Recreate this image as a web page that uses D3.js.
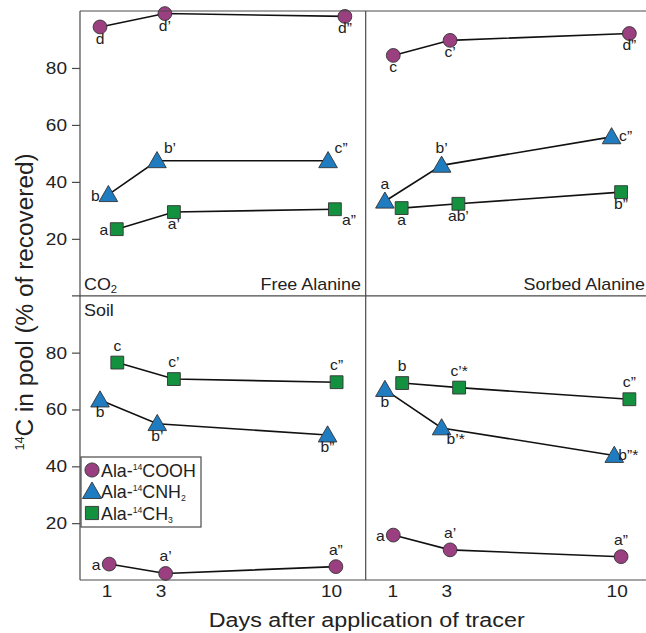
<!DOCTYPE html>
<html><head><meta charset="utf-8">
<script src="https://cdn.jsdelivr.net/npm/d3@7/dist/d3.min.js"></script>
<style>body{margin:0;background:#fff}svg{display:block;font-family:"Liberation Sans",Arial,sans-serif}</style>
</head><body><svg id="c" width="646" height="633"></svg>
<script>
// ---- data ----
const dayTicks = [1, 3, 10];
const yTicks = [20, 40, 60, 80];
const seriesNames = ["Ala-14COOH", "Ala-14CNH2", "Ala-14CH3"];
// x = sampling day as drawn (slightly offset per symbol), y = % of recovered 14C
// Panel 1: CO2, free alanine
const p1CoohDays = [0.76, 3.18, 10.57], p1CoohVals = [94.4, 99.1, 98.1], p1CoohLab = ["d", "d’", "d”"];
const p1CnhDays = [1.07, 2.87, 9.88], p1CnhVals = [35.5, 47.4, 47.4], p1CnhLab = ["b", "b’", "c”"];
const p1ChDays = [1.38, 3.55, 10.16], p1ChVals = [23.4, 29.4, 30.4], p1ChLab = ["a", "a’", "a”"];
// Panel 2: CO2, sorbed alanine
const p2CoohDays = [1.04, 3.16, 10.52], p2CoohVals = [84.4, 89.7, 92.1], p2CoohLab = ["c", "c’", "d”"];
const p2CnhDays = [0.73, 2.83, 9.79], p2CnhVals = [33.2, 45.8, 55.8], p2CnhLab = ["a", "b’", "c”"];
const p2ChDays = [1.35, 3.50, 10.18], p2ChVals = [30.8, 32.3, 36.4], p2ChLab = ["a", "ab’", "b”"];
// Panel 3: soil, free alanine
const p3CoohDays = [1.10, 3.21, 10.20], p3CoohVals = [5.6, 2.3, 4.7], p3CoohLab = ["a", "a’", "a”"];
const p3CnhDays = [0.76, 2.88, 9.86], p3CnhVals = [63.3, 55.0, 51.0], p3CnhLab = ["b", "b’", "b”"];
const p3ChDays = [1.40, 3.55, 10.23], p3ChVals = [76.5, 70.7, 69.6], p3ChLab = ["c", "c’", "c”"];
// Panel 4: soil, sorbed alanine
const p4CoohDays = [1.04, 3.16, 10.18], p4CoohVals = [15.8, 10.6, 8.2], p4CoohLab = ["a", "a’", "a”"];
const p4CnhDays = [0.73, 2.83, 9.90], p4CnhVals = [67.0, 53.5, 43.8], p4CnhLab = ["b", "b’*", "b”*"];
const p4ChDays = [1.37, 3.53, 10.52], p4ChVals = [69.3, 67.7, 63.6], p4ChLab = ["b", "c’*", "c”"];
// label placement codes (b=below, t=above, l=left, r=right, tr=top-right, br=bottom-right)
const p1Place = [["b","b","b"],["l","tr","tr"],["l","b","br"]];
const p2Place = [["b","b","b"],["t","t","r"],["b","b","b"]];
const p3Place = [["l","t","t"],["b","b","b"],["t","t","t"]];
const p4Place = [["l","t","t"],["b","br","r"],["t","t","t"]];

// ---- layout ----
const svg = d3.select("#c");
const L = 80, M = 365.7, R = 651.4, T = 11, MY = 295.8, B = 580;
const SX = 1.12; // horizontal text stretch seen in the reference
const colors = ["#9a3f80", "#1f7cc1", "#13913f"];
const shapes = [d3.symbolCircle, d3.symbolTriangle, d3.symbolSquare];
const sizes = [150, 150, 165];

function stretch(sel, sx) {
  sel.each(function () {
    const t = d3.select(this);
    const x = +t.attr("x") || 0, y = +t.attr("y") || 0;
    t.attr("x", null).attr("y", null).attr("transform", `translate(${x},${y}) scale(${sx},1)`);
  });
}

const panels = [
  {x0: L, x1: M, y0: T, y1: MY, s: [[p1CoohDays,p1CoohVals,p1CoohLab],[p1CnhDays,p1CnhVals,p1CnhLab],[p1ChDays,p1ChVals,p1ChLab]], place: p1Place},
  {x0: M, x1: R, y0: T, y1: MY, s: [[p2CoohDays,p2CoohVals,p2CoohLab],[p2CnhDays,p2CnhVals,p2CnhLab],[p2ChDays,p2ChVals,p2ChLab]], place: p2Place},
  {x0: L, x1: M, y0: MY, y1: B, s: [[p3CoohDays,p3CoohVals,p3CoohLab],[p3CnhDays,p3CnhVals,p3CnhLab],[p3ChDays,p3ChVals,p3ChLab]], place: p3Place},
  {x0: M, x1: R, y0: MY, y1: B, s: [[p4CoohDays,p4CoohVals,p4CoohLab],[p4CnhDays,p4CnhVals,p4CnhLab],[p4ChDays,p4ChVals,p4ChLab]], place: p4Place}
];
const off = {b:[0,17], t:[0,-12], l:[-13,6], r:[14,4], tr:[13,-8], br:[14,16]};

panels.forEach((p, i) => {
  const xs = d3.scaleLinear().domain(dayTicks).range([p.x0 + 26.5, p.x0 + 80.5, p.x0 + 251]);
  const ys = d3.scaleLinear().domain([0, 100]).range([p.y1, p.y0]);
  p.xs = xs; p.ys = ys;
  const g = svg.append("g");
  p.s.forEach((ser, k) => {
    const pts = ser[0].map((d, j) => [xs(d), ys(ser[1][j])]);
    g.append("path").attr("d", d3.line()(pts)).attr("fill", "none").attr("stroke", "#111").attr("stroke-width", 1.6);
  });
  p.s.forEach((ser, k) => {
    ser[0].forEach((d, j) => {
      const sym = d3.symbol().type(shapes[k]).size(sizes[k]);
      g.append("path").attr("d", sym()).attr("transform", `translate(${xs(d)},${ys(ser[1][j]) + (k===1?1.5:0)})`)
        .attr("fill", colors[k]).attr("stroke", "#333").attr("stroke-width", 0.9);
    });
  });
  p.s.forEach((ser, k) => {
    ser[0].forEach((d, j) => {
      const o = off[p.place[k][j]];
      g.append("text").attr("x", xs(d) + o[0]).attr("y", ys(ser[1][j]) + o[1])
        .attr("text-anchor", "middle").attr("font-size", 14).attr("fill", "#222").text(ser[2][j])
        .call(stretch, SX);
    });
  });
});

// frame lines
const frame = svg.append("g").attr("stroke", "#4a4a4a").attr("stroke-width", 1.2).attr("fill", "none");
frame.append("line").attr("x1", L).attr("x2", 646).attr("y1", T).attr("y2", T);
frame.append("line").attr("x1", 72).attr("x2", 646).attr("y1", MY).attr("y2", MY);
frame.append("line").attr("x1", L).attr("x2", 646).attr("y1", B).attr("y2", B);
frame.append("line").attr("x1", L).attr("x2", L).attr("y1", T).attr("y2", B);
frame.append("line").attr("x1", M).attr("x2", M).attr("y1", T).attr("y2", B);

// y axes
[panels[0], panels[2]].forEach(p => {
  const ax = svg.append("g").attr("transform", `translate(${L},0)`)
    .call(d3.axisLeft(p.ys).tickValues(yTicks).tickSize(8).tickPadding(5));
  ax.select(".domain").remove();
  ax.selectAll("line").attr("stroke", "#4a4a4a").attr("stroke-width", 1.2);
  ax.selectAll("text").attr("font-size", 17).attr("fill", "#222").attr("font-family", "Liberation Sans, Arial, sans-serif").call(stretch, SX);
});
// x axes
[panels[2], panels[3]].forEach(p => {
  const ax = svg.append("g").attr("transform", `translate(0,${B})`)
    .call(d3.axisBottom(p.xs).tickValues(dayTicks).tickSize(0).tickPadding(5));
  ax.select(".domain").remove();
  ax.selectAll("text").attr("font-size", 17).attr("fill", "#222").attr("font-family", "Liberation Sans, Arial, sans-serif").call(stretch, SX);
});

// panel labels
const lab = svg.append("g").attr("font-size", 16).attr("fill", "#222");
const co2 = lab.append("text").attr("x", 84).attr("y", 290);
co2.append("tspan").text("CO");
co2.append("tspan").attr("font-size", 10).attr("dy", 3).text("2");
co2.call(stretch, SX);
lab.append("text").attr("x", 361).attr("y", 290).attr("text-anchor", "end").text("Free Alanine").call(stretch, SX);
lab.append("text").attr("x", 645).attr("y", 290).attr("text-anchor", "end").text("Sorbed Alanine").call(stretch, SX);
lab.append("text").attr("x", 84).attr("y", 316).text("Soil").call(stretch, SX);

// legend
const lg = svg.append("g");
lg.append("rect").attr("x", 81).attr("y", 457).attr("width", 120).attr("height", 70).attr("fill", "#fff").attr("stroke", "#4a4a4a").attr("stroke-width", 1.2);
const legParts = [["Ala-", "14", "COOH", ""], ["Ala-", "14", "CNH", "2"], ["Ala-", "14", "CH", "3"]];
legParts.forEach((lp, k) => {
  const y = 470 + k * 21.5;
  lg.append("path").attr("d", d3.symbol().type(shapes[k]).size(sizes[k] * 1.05)())
    .attr("transform", `translate(92,${y + (k===1?1.5:0)})`).attr("fill", colors[k]).attr("stroke", "#333").attr("stroke-width", 0.9);
  const t = lg.append("text").attr("x", 101).attr("y", y + 6.5).attr("font-size", 17.5).attr("fill", "#222");
  t.append("tspan").text(lp[0]);
  t.append("tspan").attr("font-size", 8.5).attr("dy", -7).text(lp[1]);
  t.append("tspan").attr("dy", 7).text(lp[2]);
  if (lp[3]) t.append("tspan").attr("font-size", 8.5).attr("dy", 3).text(lp[3]);
  t.call(stretch, 1.02);
});

// axis titles
svg.append("text").attr("x", 366.7).attr("y", 626.5).attr("text-anchor", "middle").attr("font-size", 21).attr("fill", "#222")
  .text("Days after application of tracer").call(stretch, 1.11);
const yt = svg.append("text").attr("transform", "translate(33,302) rotate(-90) scale(1.06,1)").attr("text-anchor", "middle").attr("font-size", 23).attr("fill", "#222");
yt.append("tspan").attr("font-size", 12).attr("dy", -9).text("14");
yt.append("tspan").attr("dy", 9).text("C in pool (% of recovered)");
</script></body></html>
